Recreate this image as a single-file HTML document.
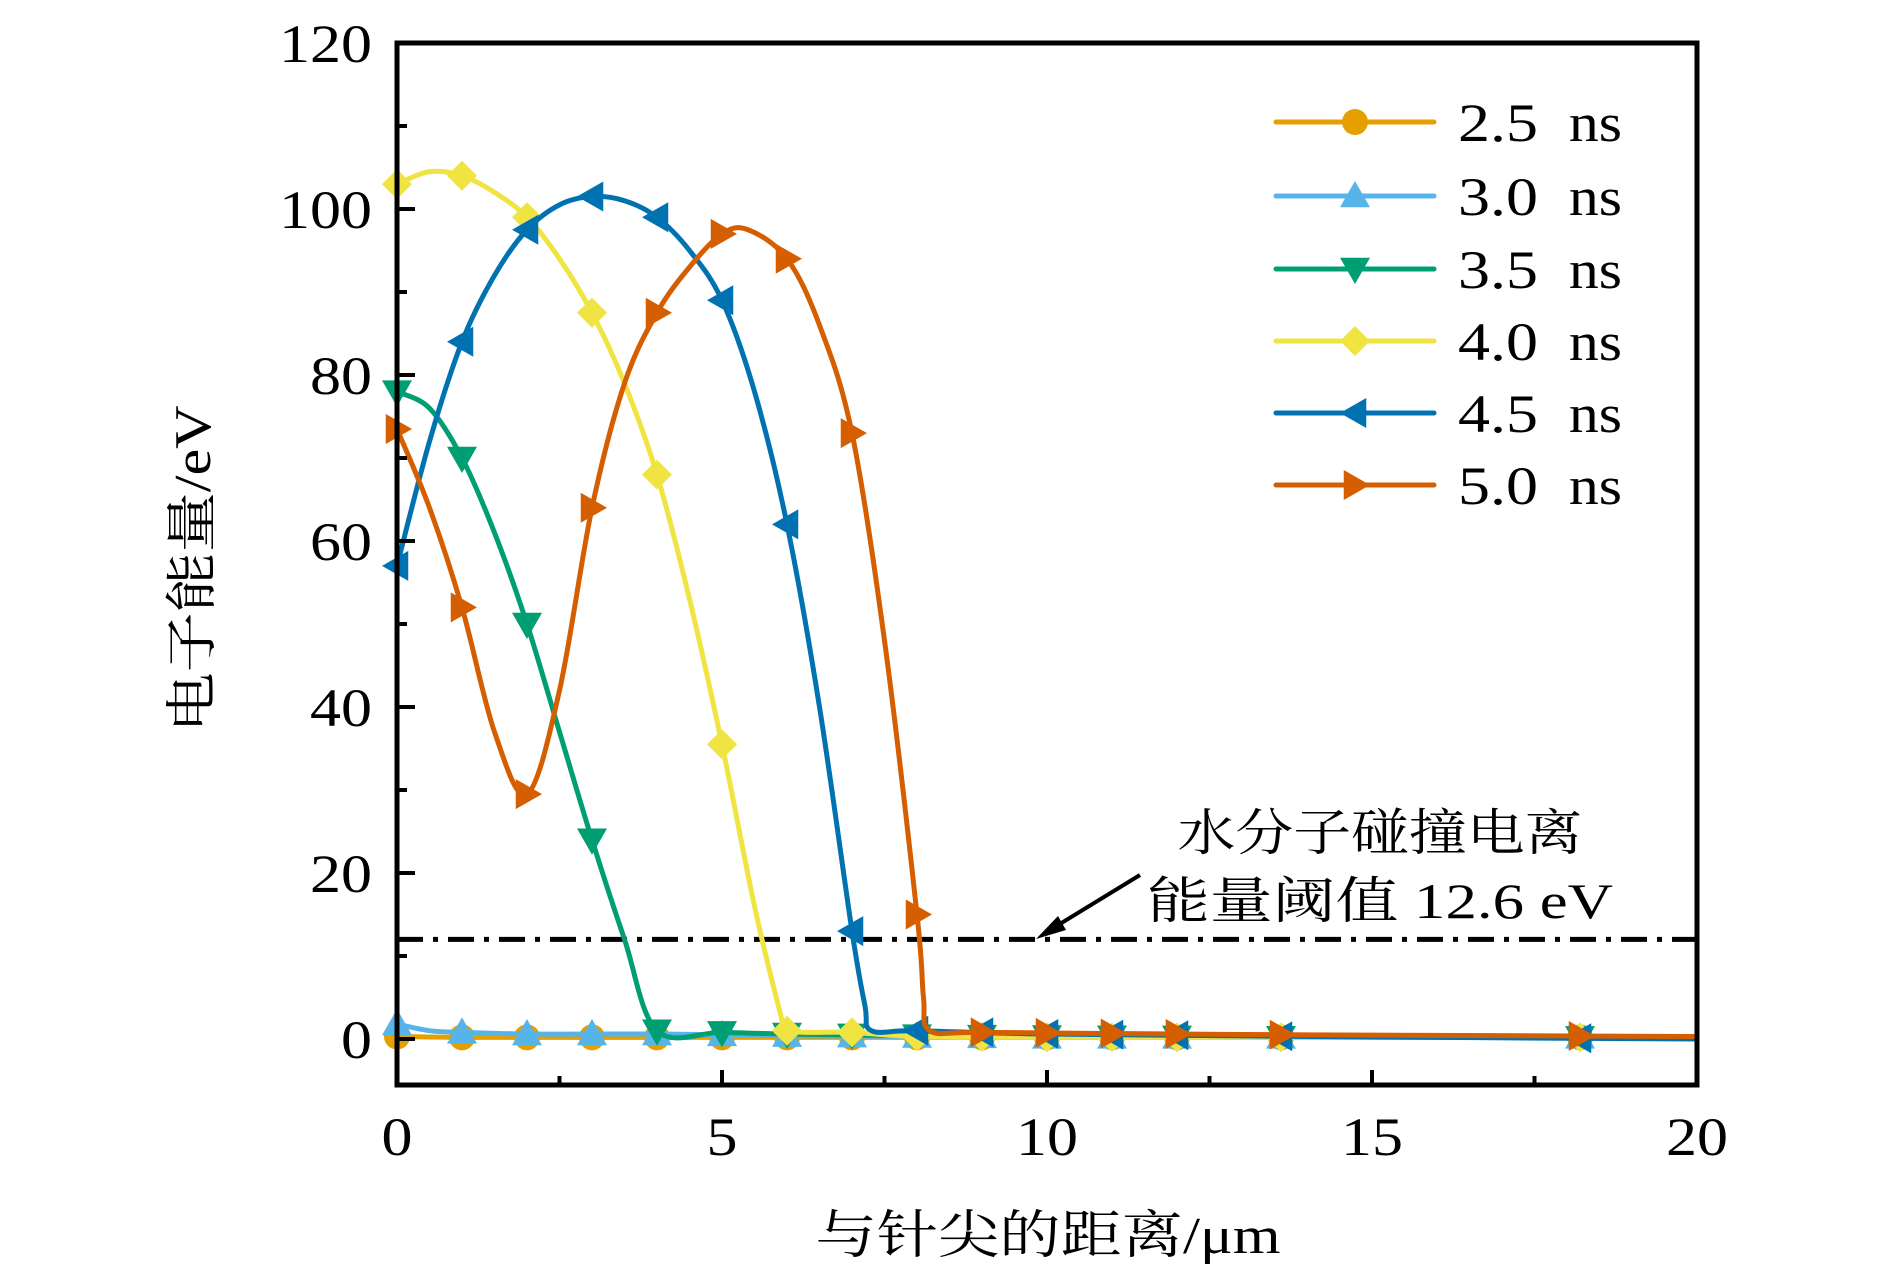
<!DOCTYPE html>
<html><head><meta charset="utf-8"><style>
html,body{margin:0;padding:0;background:#fff;}
svg{display:block;}
text{font-family:"Liberation Serif","Noto Serif CJK SC",serif;fill:#000;}
</style></head><body>
<svg id="chart" width="1890" height="1276" viewBox="0 0 1890 1276" xmlns="http://www.w3.org/2000/svg">
<g id="series"></g>
<g id="axes"></g>
<g id="legend"></g>
<g>
<text x="1380" y="850" font-size="50" text-anchor="middle" textLength="405" lengthAdjust="spacingAndGlyphs">水分子碰撞电离</text>
<text x="1380" y="918" font-size="50" text-anchor="middle" textLength="466" lengthAdjust="spacingAndGlyphs">能量阈值 12.6 eV</text>
<line x1="1140" y1="875" x2="1050" y2="930" stroke="#000" stroke-width="4"/>
<polygon points="1036,939 1058,916 1066,930" fill="#000"/>
</g>
</svg>
<script>
const xTicks=[0,5,10,15,20];
const yTicks=[0,20,40,60,80,100,120];
const seriesNums=["2.5","3.0","3.5","4.0","4.5","5.0"];
const seriesColors=["#E69F00","#56B4E9","#009E73","#F0E442","#0072B2","#D55E00"];
const seriesMarkers=["circle","up","down","diamond","left","right"];
const markerX=[0,1,2,3,4,5,6,7,8,9,10,11,12,13.6,18.2];
const s25x=[0,1,2,3,4,5,6,8,10,14,20];
const s25y=[0.3,0.2,0.2,0.2,0.2,0.2,0.2,0.2,0.2,0.2,0.2];
const s30x=[0,0.5,1,2,3,4,5,6,8,10,14,20];
const s30y=[1.8,1.0,0.8,0.6,0.6,0.6,0.5,0.4,0.3,0.2,0.2,0.2];
const s35x=[0,0.5,1,1.5,2,2.5,3,3.5,4,5,6,8,10,14,20];
const s35y=[78,76,70,61,50,37,24,12,1,0.8,0.6,0.4,0.3,0.2,0.2];
const s40x=[0,0.5,1,1.5,2,2.5,3,3.5,4,4.5,5,5.5,5.9,6,7,8,10,14,20];
const s40y=[103,104.5,104,102,99,94,87.5,79,68,53,35.5,16,3,1,0.8,0.3,0.2,0.2,0.2];
const s45x=[0,0.5,1,1.5,2,2.5,3,3.5,4,4.5,5,5.5,6,6.5,7,7.2,7.3,8,10,14,20];
const s45y=[57,72,84,92,97.5,100.5,101.5,101,99,95,89,78,62,40,13,4,1,1,0.6,0.3,0];
const s50x=[0,0.5,1,1.5,2,2.5,3,3.5,4,4.5,5,5.4,6,6.5,7,7.5,8,8.1,8.2,9,12,14,20];
const s50y=[73.5,64,52,37,29.5,42,64,79,87.5,93,97,97.5,94,86,73,48,15,5,1,0.8,0.6,0.5,0.3];
const allX=[s25x,s30x,s35x,s40x,s45x,s50x];
const allY=[s25y,s30y,s35y,s40y,s45y,s50y];

const X0=397,X1=1697,Y0=1039,PY=8.3,YB=1085,YT=43;
function sx(v){return X0+(X1-X0)*v/20;}
function sy(v){return Y0-PY*v;}
const NS="http://www.w3.org/2000/svg";
function mk(tag,attrs,parent){const e=document.createElementNS(NS,tag);for(const k in attrs)e.setAttribute(k,attrs[k]);parent.appendChild(e);return e;}
function interp(xs,ys,x){for(let i=0;i<xs.length-1;i++){if(x>=xs[i]&&x<=xs[i+1]){const t=(x-xs[i])/(xs[i+1]-xs[i]);return ys[i]+t*(ys[i+1]-ys[i]);}}return ys[ys.length-1];}
function pathD(xs,ys){
  const p=xs.map((x,i)=>[sx(x),sy(ys[i])]);
  let d="M"+p[0][0]+","+p[0][1];
  for(let i=0;i<p.length-1;i++){
    const p0=p[Math.max(0,i-1)],p1=p[i],p2=p[i+1],p3=p[Math.min(p.length-1,i+2)];
    const c1=[p1[0]+(p2[0]-p0[0])/6,p1[1]+(p2[1]-p0[1])/6];
    const c2=[p2[0]-(p3[0]-p1[0])/6,p2[1]-(p3[1]-p1[1])/6];
    d+=" C"+c1[0]+","+c1[1]+" "+c2[0]+","+c2[1]+" "+p2[0]+","+p2[1];
  }
  return d;
}
function marker(type,cx,cy,color,parent){
  const r=15;let e;
  if(type==="circle")e=mk("circle",{cx:cx,cy:cy,r:13,fill:color},parent);
  else{
    let pts;
    if(type==="up")pts=[[0,-r],[r,r*0.75],[-r,r*0.75]];
    else if(type==="down")pts=[[0,r],[r,-r*0.75],[-r,-r*0.75]];
    else if(type==="diamond")pts=[[0,-r],[r,0],[0,r],[-r,0]];
    else if(type==="left")pts=[[-r,0],[r*0.75,-r],[r*0.75,r]];
    else pts=[[r,0],[-r*0.75,-r],[-r*0.75,r]];
    e=mk("polygon",{points:pts.map(q=>(cx+q[0])+","+(cy+q[1])).join(" "),fill:color},parent);
  }
  return e;
}
const sg=document.getElementById("series");
const th=mk("line",{x1:X0,y1:sy(12),x2:X1,y2:sy(12),stroke:"#000","stroke-width":5,"stroke-dasharray":"26,10,5,10"},sg);


for(let s=0;s<6;s++){
  const g=mk("g",{},sg);
  
  
  const pth=mk("path",{d:pathD(allX[s],allY[s]),fill:"none",stroke:seriesColors[s],"stroke-width":5,"stroke-linejoin":"round"},g);
  
  
  for(const mx of markerX){
    const m=marker(seriesMarkers[s],sx(mx),sy(interp(allX[s],allY[s],mx)),seriesColors[s],g);
    
    
  }
}
const ag=document.getElementById("axes");
const fr=mk("rect",{x:X0,y:YT,width:X1-X0,height:YB-YT,fill:"none",stroke:"#000","stroke-width":5},ag);


for(let v=2.5;v<20;v+=2.5){
  const major=(v%5===0);
  const t=mk("line",{x1:sx(v),x2:sx(v),y1:YB,y2:YB-(major?15:9),stroke:"#000","stroke-width":4},ag);
  
  
}
for(const v of xTicks){
  const t=mk("text",{x:sx(v),y:1155,"font-size":54,"text-anchor":"middle",textLength:String(v).length*31,lengthAdjust:"spacingAndGlyphs"},ag);t.textContent=v;
  
  
}
for(let v=0;v<=110;v+=10){
  const major=(v%20===0);
  const t=mk("line",{x1:X0,x2:X0+(major?18:10),y1:sy(v),y2:sy(v),stroke:"#000","stroke-width":4},ag);
  
  
}
for(const v of yTicks){
  const t=mk("text",{x:372,y:sy(v)+19,"font-size":54,"text-anchor":"end",textLength:String(v).length*31,lengthAdjust:"spacingAndGlyphs"},ag);t.textContent=v;
  
  
}
const xl=mk("text",{x:1048,y:1253,"font-size":52,"text-anchor":"middle",textLength:465,lengthAdjust:"spacingAndGlyphs"},ag);xl.textContent="与针尖的距离/μm";


const yl=mk("text",{x:0,y:0,"font-size":52,"text-anchor":"middle",textLength:327,lengthAdjust:"spacingAndGlyphs",transform:"translate(210,569) rotate(-90)"},ag);yl.textContent="电子能量/eV";


const lg=document.getElementById("legend");
const rows=[122,196,269,341,413,485];
for(let s=0;s<6;s++){
  const g=mk("g",{},lg);
  
  
  mk("line",{x1:1276,x2:1434,y1:rows[s],y2:rows[s],stroke:seriesColors[s],"stroke-width":5,"stroke-linecap":"round"},g);
  marker(seriesMarkers[s],1355,rows[s],seriesColors[s],g);
  const t=mk("text",{x:1458,y:rows[s]+19,"font-size":54},g);
  
  
  const a=mk("tspan",{textLength:80,lengthAdjust:"spacingAndGlyphs"},t);a.textContent=seriesNums[s];
  const b=mk("tspan",{x:1554,textLength:68,lengthAdjust:"spacingAndGlyphs"},t);b.textContent=" ns";
}
</script>
</body></html>
